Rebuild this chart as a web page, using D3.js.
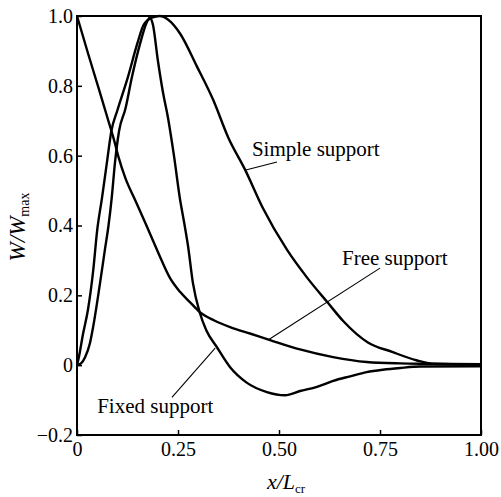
<!DOCTYPE html>
<html>
<head>
<meta charset="utf-8">
<script src="https://cdn.jsdelivr.net/npm/d3@7"></script>
<style>
  body { margin: 0; background: #fff; }
  svg { display: block; font-family: "Liberation Serif", "Times New Roman", serif; }
</style>
</head>
<body>
<svg id="chart" width="501" height="497"></svg>
<script>
// values
const simpleX = [0, 0.003, 0.015, 0.027, 0.04, 0.05, 0.062, 0.074, 0.085, 0.10, 0.126, 0.149, 0.165, 0.185, 0.205, 0.225, 0.255, 0.297, 0.337, 0.374, 0.416, 0.46, 0.52, 0.57, 0.62, 0.66, 0.72, 0.78, 0.84, 0.88, 1.0];
const simpleY = [0, 0.014, 0.09, 0.158, 0.27, 0.387, 0.48, 0.58, 0.67, 0.73, 0.825, 0.92, 0.975, 0.995, 1.0, 0.99, 0.95, 0.855, 0.76, 0.653, 0.56, 0.45, 0.33, 0.25, 0.18, 0.125, 0.065, 0.038, 0.014, 0.004, 0.002];

const fixedX = [0, 0.01, 0.02, 0.032, 0.04, 0.057, 0.069, 0.078, 0.086, 0.094, 0.104, 0.12, 0.136, 0.156, 0.172, 0.18, 0.188, 0.2, 0.213, 0.225, 0.24, 0.255, 0.265, 0.275, 0.287, 0.304, 0.32, 0.346, 0.379, 0.42, 0.47, 0.515, 0.552, 0.594, 0.634, 0.676, 0.717, 0.757, 0.80, 0.85, 1.0];
const fixedY = [0, 0.005, 0.023, 0.063, 0.11, 0.235, 0.33, 0.40, 0.48, 0.58, 0.67, 0.735, 0.825, 0.92, 0.98, 0.995, 0.975, 0.874, 0.78, 0.71, 0.6, 0.475, 0.41, 0.34, 0.235, 0.15, 0.10, 0.052, -0.006, -0.05, -0.077, -0.086, -0.074, -0.062, -0.045, -0.032, -0.02, -0.013, -0.008, -0.004, -0.003];

const freeX = [0, 0.027, 0.057, 0.075, 0.094, 0.103, 0.12, 0.143, 0.17, 0.2, 0.23, 0.255, 0.28, 0.304, 0.34, 0.379, 0.43, 0.478, 0.552, 0.634, 0.717, 0.80, 0.854, 1.0];
const freeY = [1.0, 0.894, 0.78, 0.71, 0.635, 0.595, 0.535, 0.475, 0.405, 0.325, 0.25, 0.21, 0.18, 0.152, 0.128, 0.109, 0.09, 0.072, 0.045, 0.023, 0.009, 0.005, 0.004, 0.003];

const xTicks = [0, 0.25, 0.5, 0.75, 1.0];
const xTickLabels = ["0", "0.25", "0.50", "0.75", "1.00"];
const yTicks = [-0.2, 0, 0.2, 0.4, 0.6, 0.8, 1.0];
const yTickLabels = ["\u22120.2", "0", "0.2", "0.4", "0.6", "0.8", "1.0"];

const svg = d3.select("#chart");

const margin = { top: 16, right: 20, bottom: 62, left: 77 };
const width = 501, height = 497;

const x = d3.scaleLinear().domain([0, 1]).range([margin.left, width - margin.right]);
const y = d3.scaleLinear().domain([-0.2, 1]).range([height - margin.bottom, margin.top]);

// axes with inward ticks
const yAxis = svg.append("g")
    .attr("transform", `translate(${margin.left},0)`)
    .call(d3.axisLeft(y).tickValues(yTicks).tickFormat((d, i) => yTickLabels[i])
        .tickSizeInner(-5).tickSizeOuter(0).tickPadding(4));
const xAxis = svg.append("g")
    .attr("transform", `translate(0,${height - margin.bottom})`)
    .call(d3.axisBottom(x).tickValues(xTicks).tickFormat((d, i) => xTickLabels[i])
        .tickSizeInner(-5).tickSizeOuter(0).tickPadding(7));

[xAxis, yAxis].forEach(g => {
    g.select(".domain").remove();
    g.selectAll(".tick line").attr("stroke", "#000").attr("stroke-width", 1.5);
    g.selectAll(".tick text").attr("fill", "#000").style("font-size", "20px")
        .style("font-family", "'Liberation Serif', serif");
});

// frame
svg.append("rect")
    .attr("x", x(0)).attr("y", y(1))
    .attr("width", x(1) - x(0)).attr("height", y(-0.2) - y(1))
    .attr("fill", "none").attr("stroke", "#000").attr("stroke-width", 2);

// curves
const line = d3.line()
    .x(d => x(d[0]))
    .y(d => y(d[1]))
    .curve(d3.curveMonotoneX);

const series = [
    { name: "Simple support", xs: simpleX, ys: simpleY },
    { name: "Fixed support", xs: fixedX, ys: fixedY },
    { name: "Free support", xs: freeX, ys: freeY }
];

svg.append("g")
    .selectAll("path")
    .data(series)
    .join("path")
    .attr("d", s => line(s.xs.map((v, i) => [v, s.ys[i]])))
    .attr("fill", "none")
    .attr("stroke", "#000")
    .attr("stroke-width", 2.4)
    .attr("stroke-linejoin", "round");

// labels with leader lines (data coordinates)
const notes = [
    { text: "Simple support", tx: 0.433, ty: 0.60, from: [0.495, 0.582], to: [0.418, 0.559] },
    { text: "Free support", tx: 0.656, ty: 0.287, from: [0.75, 0.278], to: [0.473, 0.072] },
    { text: "Fixed support", tx: 0.05, ty: -0.138, from: [0.235, -0.092], to: [0.342, 0.049] }
];

const ann = svg.append("g");
notes.forEach(n => {
    ann.append("line")
        .attr("x1", x(n.from[0])).attr("y1", y(n.from[1]))
        .attr("x2", x(n.to[0])).attr("y2", y(n.to[1]))
        .attr("stroke", "#000").attr("stroke-width", 1.1);
    ann.append("text")
        .attr("x", x(n.tx)).attr("y", y(n.ty))
        .style("font-size", "21px")
        .text(n.text);
});

// axis titles
const yTitle = svg.append("text")
    .attr("transform", `translate(25,227) rotate(-90)`)
    .attr("text-anchor", "middle")
    .style("font-size", "23px");
yTitle.append("tspan").style("font-style", "italic").text("W/W");
yTitle.append("tspan").attr("dy", 4).style("font-size", "14px").text("max");

const xTitle = svg.append("text")
    .attr("x", (x(0) + x(1)) / 2 + 7)
    .attr("y", 489)
    .attr("text-anchor", "middle")
    .style("font-size", "22px");
xTitle.append("tspan").style("font-style", "italic").text("x/L");
xTitle.append("tspan").attr("dy", 4).style("font-size", "13px").text("cr");
</script>
</body>
</html>
